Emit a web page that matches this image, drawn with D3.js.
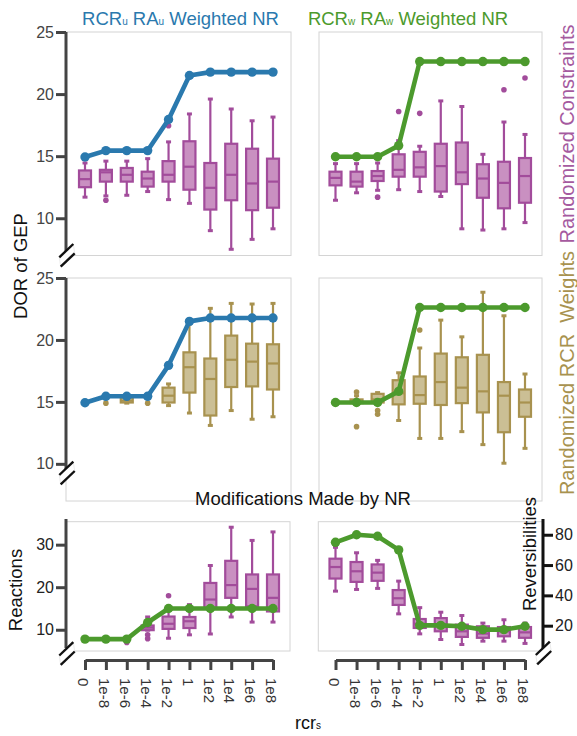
<!DOCTYPE html>
<html><head><meta charset="utf-8">
<script src="https://cdn.jsdelivr.net/npm/d3@7"></script>
<style>body{margin:0;background:#fff}svg{display:block;font-family:"Liberation Sans",Arial,sans-serif}</style>
</head><body><script>
// ---------------- DATA ----------------
const categories = ["0","1e-8","1e-6","1e-4","1e-2","1","1e2","1e4","1e6","1e8"];

// DOR of GEP for NR (lines)
const dorUnweighted = [14.93,15.45,15.45,15.45,17.95,21.5,21.77,21.77,21.77,21.77];
const dorWeighted   = [14.95,14.95,14.95,15.85,22.62,22.62,22.62,22.62,22.62,22.62];

// Box stats: [whiskerLow, q1, median, q3, whiskerHigh]
const constraintsU = [
  [11.7,12.5,13.15,13.85,14.45],[11.8,12.95,13.7,13.9,14.6],[11.85,12.95,13.5,14.05,14.6],
  [12.15,12.55,13.2,13.75,14.8],[11.5,12.95,13.5,14.6,16.15],[11.2,12.3,14.15,16.2,18.4],
  [9.0,10.7,12.45,14.45,19.6],[7.5,11.45,13.5,16.0,18.8],[8.3,10.65,12.8,15.6,17.85],
  [9.15,10.85,12.95,14.8,18.15]];
const constraintsUOut = [[1,11.45],[4,17.45]];

const constraintsW = [
  [11.45,12.65,13.25,13.75,14.4],[12.05,12.55,12.95,13.75,14.4],[12.25,13.0,13.4,13.8,14.45],
  [12.3,13.35,13.9,15.15,16.25],[12.15,13.35,14.1,15.35,15.8],[11.75,12.15,14.2,16.0,19.45],
  [9.15,12.75,13.7,16.1,19.0],[9.05,11.65,13.2,14.35,15.15],[9.15,10.8,12.85,14.55,17.75],
  [9.65,11.25,13.4,14.85,16.75]];
const constraintsWOut = [[2,11.7],[3,18.6],[4,18.45],[8,20.35],[9,21.3]];

const weightsU = [
  [14.9,14.9,14.9,14.9,14.9],[15.5,15.5,15.5,15.5,15.5],[14.9,14.95,15.1,15.35,15.5],
  [15.5,15.5,15.5,15.5,15.5],[14.7,14.95,15.5,16.15,16.45],[14.1,15.75,17.8,19.0,21.3],
  [13.1,13.9,16.85,18.5,22.55],[14.3,16.2,18.4,20.35,22.95],[13.6,16.25,18.25,19.7,22.9],
  [13.8,16.0,18.1,19.65,22.95]];
const weightsUOut = [[1,14.9],[3,14.9]];

const weightsW = [
  [14.9,14.9,14.9,14.9,14.9],[14.9,14.9,15.0,15.2,15.5],[14.9,14.95,15.2,15.65,15.75],
  [13.5,14.8,15.7,16.75,17.35],[12.05,14.85,15.55,17.05,19.35],[12.05,14.75,16.6,18.9,21.6],
  [12.6,14.9,16.15,18.6,20.25],[11.55,14.15,15.85,18.8,23.85],[10.05,12.55,15.5,16.6,21.95],
  [11.25,13.8,14.95,16.0,17.25]];
const weightsWOut = [[1,15.8],[1,13.0],[2,14.3],[2,14.0],[4,20.8]];

// Modifications made by NR
const reactionsNR = [7.8,7.8,7.8,11.7,15,15,15,15,15,15];
const reactionsBox = [
  [7.8,7.8,7.8,7.8,7.8],[7.8,7.8,7.8,7.8,7.8],[7.8,7.8,7.8,7.8,7.8],
  [9.9,9.9,10.5,11.0,13.0],[8,10.2,11.4,13.1,15.5],[8.8,10.4,12,13,15.9],
  [9,15,17.1,21,25.1],[13,17.5,20.5,26.2,34.1],[11.8,15.5,19.6,23,31],[11.8,14.3,17.5,23,33]];
const reactionsOut = [[2,7],[3,8.8],[3,7.9],[4,18]];

const reversNR = [75.0,80.0,79.0,70.0,20.2,20.2,19.6,17.4,17.4,19.6];
const reversBox = [
  [42.8,51.1,58.7,64.2,71.7],[43.9,48.9,55.9,62.0,68.1],[44.6,49.6,55.0,60.4,63.1],
  [27.8,33.7,38.1,43.5,49.4],[14.6,18.5,21.3,24.4,31.9],[10.9,16.3,20.7,25.0,28.9],
  [7.6,12.6,16.3,20.7,26.7],[9.8,12.0,14.8,19.6,21.7],[9.8,13.0,16.3,19.1,23.9],
  [8.3,12.0,15.6,19.1,21.7]];
const reversOut = [];

const dorTicks = [10,15,20,25];
const reactionTicks = [10,20,30];
const reversTicks = [20,40,60,80];

// ---------------- STYLE ----------------
const PURPLE = {fill:"#c990c1", stroke:"#a24c9b"};
const TAN = {fill:"#cbbf95", stroke:"#a8924f"};
const BLUE = "#2a79ae", GREEN = "#4c9a2d";
const FONT = '"Liberation Sans",Arial,sans-serif';

const svg = d3.select("body").append("svg").attr("width",577).attr("height",736);

function drawBreak(cx, cy){
  const g = svg.append("g").attr("transform",`translate(${cx},${cy})`);
  g.append("polygon").attr("points","-7.7,2 6.3,-11.3 7.7,-2 -6.3,11.4")
    .attr("fill","#fff").attr("stroke","#ddd").attr("stroke-width",0.6);
  g.append("line").attr("x1",-7.7).attr("y1",2).attr("x2",6.3).attr("y2",-11.3)
    .attr("stroke","#111").attr("stroke-width",2.4);
  g.append("line").attr("x1",-6.3).attr("y1",11.4).attr("x2",7.7).attr("y2",-2)
    .attr("stroke","#111").attr("stroke-width",2.4);
}

function panel(cfg){
  const x = d3.scalePoint().domain(categories).range(cfg.xr);
  const y = d3.scaleLinear().domain(cfg.dom).range([cfg.y1, cfg.y0]);
  svg.append("rect").attr("x",cfg.x0).attr("y",cfg.y0)
    .attr("width",cfg.x1-cfg.x0).attr("height",cfg.y1-cfg.y0)
    .attr("fill","none").attr("stroke","#d4d4d4").attr("stroke-width",1);
  const g = svg.append("g");
  const bw = 12, cw = 5, col = cfg.col;
  cfg.boxes.forEach((b,i)=>{
    const [lo,q1,md,q3,hi] = b;
    if (lo===hi) return;
    const cx = x(categories[i]);
    const bg = g.append("g").attr("stroke",col.stroke).attr("stroke-width",2.2);
    bg.append("line").attr("x1",cx).attr("x2",cx).attr("y1",y(hi)).attr("y2",y(q3));
    bg.append("line").attr("x1",cx).attr("x2",cx).attr("y1",y(q1)).attr("y2",y(lo));
    bg.append("line").attr("x1",cx-cw/2).attr("x2",cx+cw/2).attr("y1",y(hi)).attr("y2",y(hi)).attr("stroke-width",3);
    bg.append("line").attr("x1",cx-cw/2).attr("x2",cx+cw/2).attr("y1",y(lo)).attr("y2",y(lo)).attr("stroke-width",3);
    bg.append("rect").attr("x",cx-bw/2).attr("y",y(q3)).attr("width",bw)
      .attr("height",Math.max(0.5,y(q1)-y(q3))).attr("fill",col.fill);
    bg.append("line").attr("x1",cx-bw/2).attr("x2",cx+bw/2).attr("y1",y(md)).attr("y2",y(md));
  });
  g.selectAll(".out").data(cfg.out).join("circle")
    .attr("cx",d=>x(categories[d[0]])).attr("cy",d=>y(d[1])).attr("r",2.8)
    .attr("fill",col.stroke);
  const line = d3.line().x((d,i)=>x(categories[i])).y(d=>y(d));
  g.append("path").datum(cfg.line).attr("d",line).attr("fill","none")
    .attr("stroke",cfg.lineColor).attr("stroke-width",4.6).attr("stroke-linejoin","round");
  g.selectAll(".pt").data(cfg.line).join("circle")
    .attr("cx",(d,i)=>x(categories[i])).attr("cy",d=>y(d)).attr("r",4.7).attr("fill",cfg.lineColor);
  return {x,y};
}

function leftAxis(y, x0, ticks, top, bottom, breakY, color){
  const ax = svg.append("g").attr("transform",`translate(${x0},0)`)
    .call(d3.axisLeft(y).tickValues(ticks).tickSize(10).tickSizeOuter(0));
  ax.select(".domain").remove();
  ax.selectAll(".tick line").attr("stroke","#444").attr("stroke-width",3);
  ax.selectAll(".tick text").attr("font-size",16).attr("fill",color).attr("font-family",FONT).attr("x",-12);
  svg.append("line").attr("x1",x0).attr("x2",x0).attr("y1",top).attr("y2",bottom)
    .attr("stroke","#444").attr("stroke-width",3);
  drawBreak(x0+1, breakY);
}

const L = [66,291], R = [319,542];
const XL = [85,273], XR = [335.5,525];
const TOP = [32,255.5], MID = [278,501], BOT = [521.7,651];

// Top row
const tl = panel({x0:L[0],x1:L[1],y0:TOP[0],y1:TOP[1],xr:XL,dom:[7,25],boxes:constraintsU,out:constraintsUOut,col:PURPLE,line:dorUnweighted,lineColor:BLUE});
const tr = panel({x0:R[0],x1:R[1],y0:TOP[0],y1:TOP[1],xr:XR,dom:[7,25],boxes:constraintsW,out:constraintsWOut,col:PURPLE,line:dorWeighted,lineColor:GREEN});
leftAxis(tl.y, 66, dorTicks, tl.y(25), 252, 255.3, "#444");

// Middle row
const ml = panel({x0:L[0],x1:L[1],y0:MID[0],y1:MID[1],xr:XL,dom:[7,25],boxes:weightsU,out:weightsUOut,col:TAN,line:dorUnweighted,lineColor:BLUE});
const mr = panel({x0:R[0],x1:R[1],y0:MID[0],y1:MID[1],xr:XR,dom:[7,25],boxes:weightsW,out:weightsWOut,col:TAN,line:dorWeighted,lineColor:GREEN});
leftAxis(ml.y, 66, dorTicks, ml.y(25), 470, 473, "#444");

// Bottom row
const bl = panel({x0:66.5,x1:290,y0:BOT[0],y1:BOT[1],xr:XL,dom:[5,35.4],boxes:reactionsBox,out:reactionsOut,col:PURPLE,line:reactionsNR,lineColor:GREEN});
const br = panel({x0:318.3,x1:542.3,y0:BOT[0],y1:BOT[1],xr:XR,dom:[3.3,88.6],boxes:reversBox,out:reversOut,col:PURPLE,line:reversNR,lineColor:GREEN});
leftAxis(bl.y, 66, reactionTicks, 519, 648, 653.5, "#222");

// Right axis (reversibilities)
{
  const ax = svg.append("g").attr("transform","translate(543,0)")
    .call(d3.axisRight(br.y).tickValues(reversTicks).tickSize(10).tickSizeOuter(0));
  ax.select(".domain").remove();
  ax.selectAll(".tick line").attr("stroke","#111").attr("stroke-width",3);
  ax.selectAll(".tick text").attr("font-size",16).attr("fill","#222").attr("font-family",FONT).attr("x",12);
  svg.append("line").attr("x1",543).attr("x2",543).attr("y1",519).attr("y2",648)
    .attr("stroke","#111").attr("stroke-width",3);
  drawBreak(543.5, 653);
}

// X axes
[bl.x, br.x].forEach(xs=>{
  const ax = svg.append("g").attr("transform","translate(0,660)")
    .call(d3.axisBottom(xs).tickSize(10).tickSizeOuter(0));
  ax.select(".domain").attr("stroke","#444").attr("stroke-width",3);
  ax.selectAll(".tick line").attr("stroke","#444").attr("stroke-width",3);
  ax.selectAll(".tick text").attr("font-size",15).attr("fill","#333").attr("font-family",FONT)
    .attr("transform","rotate(90)").attr("x",18).attr("y",2).attr("dy","0.35em")
    .attr("text-anchor","start");
});

// Titles
function subTitle(x, y, color, sub){
  const t = svg.append("text").attr("x",x).attr("y",y).attr("text-anchor","middle")
    .attr("fill",color).attr("font-size",18.5).attr("font-family",FONT);
  t.append("tspan").text("RCR");
  t.append("tspan").attr("font-size",10).text(sub);
  t.append("tspan").text(" RA");
  t.append("tspan").attr("font-size",10).text(sub);
  t.append("tspan").text(" Weighted NR");
}
subTitle(180.5, 25, BLUE, "u");
subTitle(408, 25, GREEN, "w");

function rotLabel(text, x, y, color, size, angle){
  svg.append("text").attr("transform",`translate(${x},${y}) rotate(${angle})`)
    .attr("text-anchor","middle").attr("dy","0.35em").attr("fill",color)
    .attr("font-size",size).attr("font-family",FONT).style("white-space","pre").text(text);
}
rotLabel("DOR of GEP", 21, 266, "#111", 18.5, -90);
rotLabel("Randomized Constraints", 567, 134, "#a55a9f", 20, -90);
rotLabel("Randomized RCR  Weights", 567, 373, "#a8924f", 20, -90);
rotLabel("Reactions", 16, 590, "#111", 18.5, -90);
rotLabel("Reversibilities", 530, 554, "#111", 18.5, -90);

svg.append("text").attr("x",303).attr("y",505).attr("text-anchor","middle")
  .attr("font-size",18.5).attr("fill","#111").attr("font-family",FONT).text("Modifications Made by NR");
{
  const t = svg.append("text").attr("x",295).attr("y",729).attr("fill","#111")
    .attr("font-size",18).attr("font-family",FONT);
  t.append("tspan").text("rcr");
  t.append("tspan").attr("font-size",10).text("s");
}
</script></body></html>
